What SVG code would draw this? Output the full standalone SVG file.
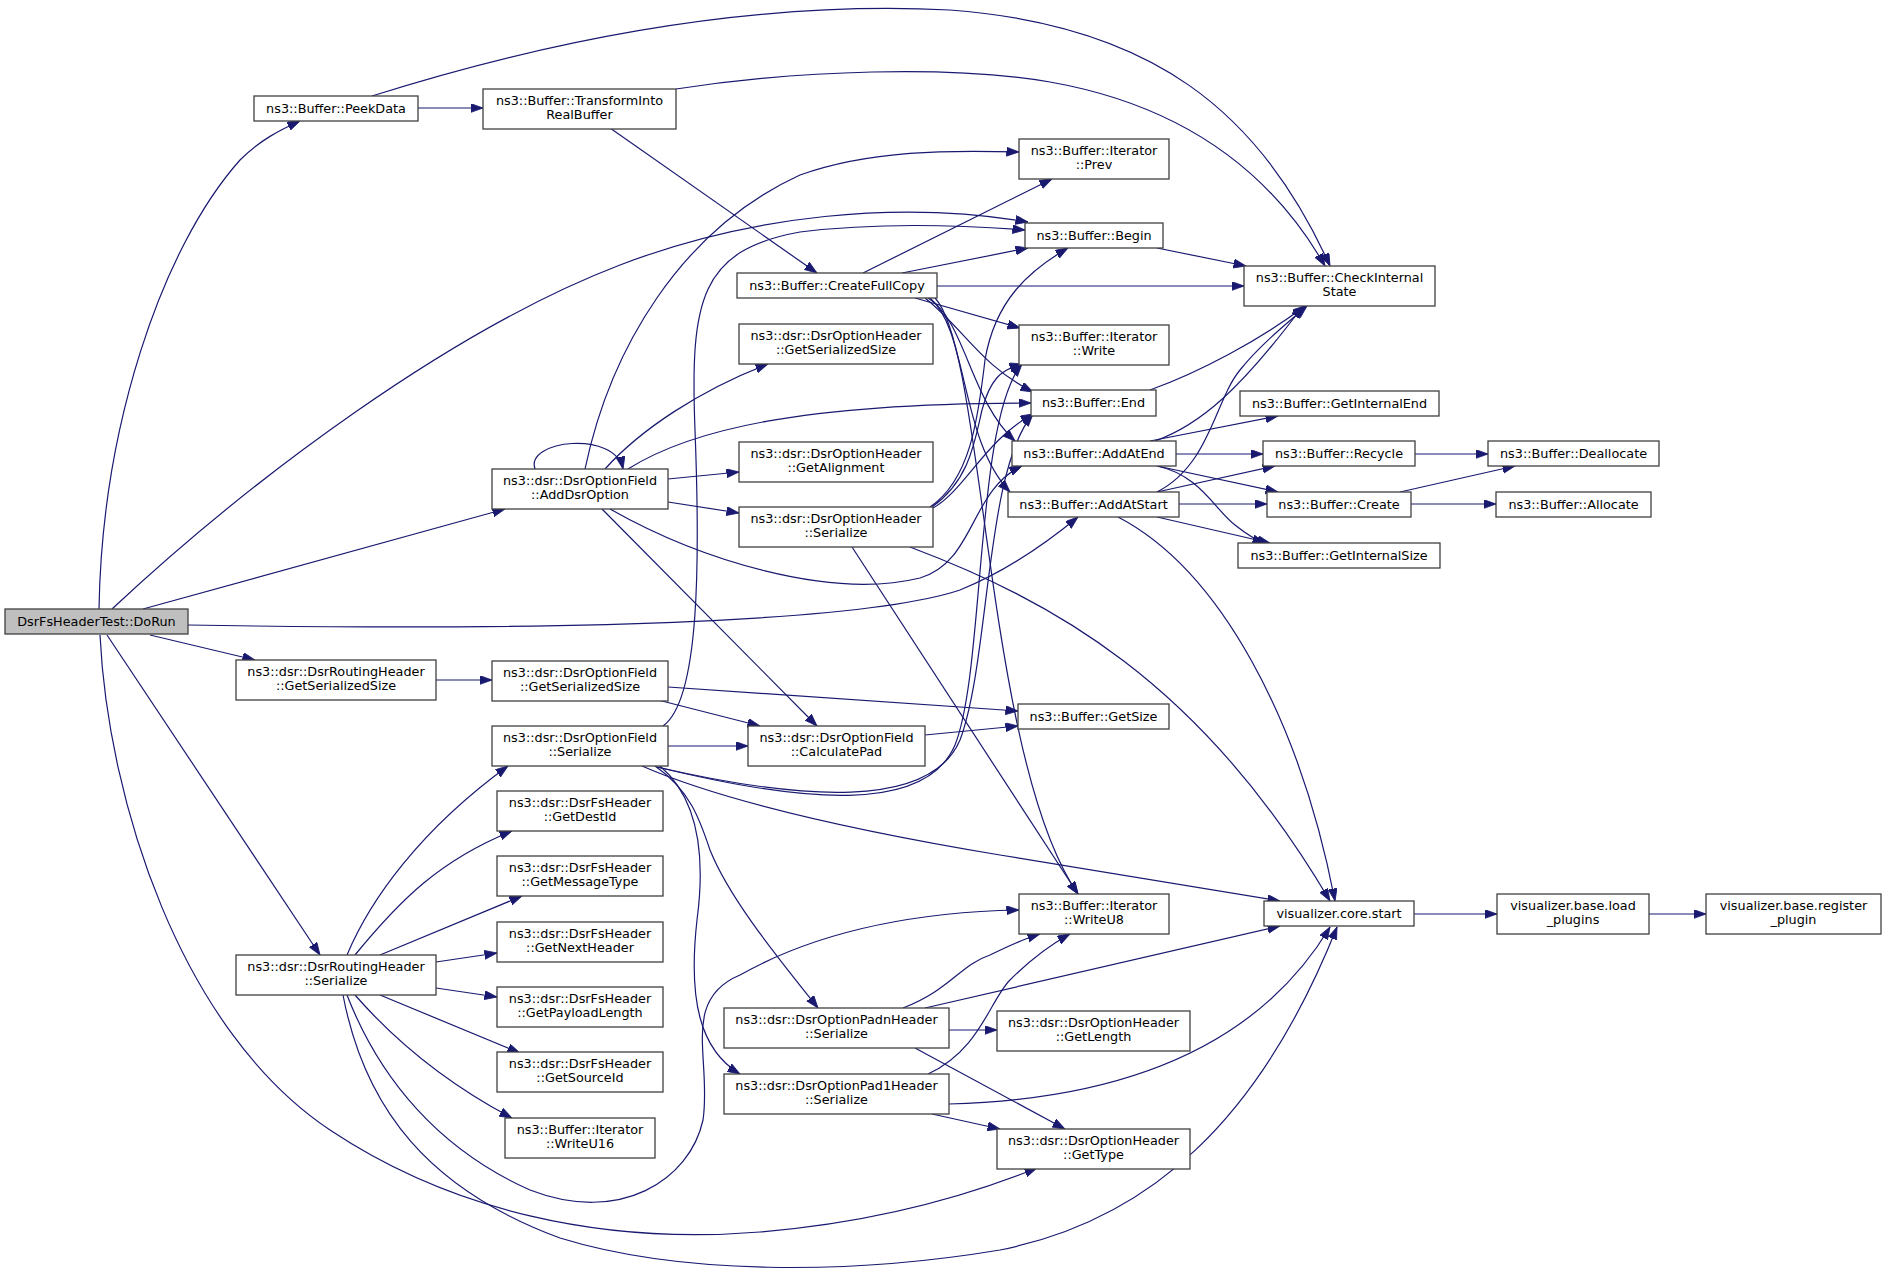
<svg xmlns="http://www.w3.org/2000/svg" width="1887" height="1277" viewBox="0 0 1887 1277">
<style>
.node rect{fill:#ffffff;stroke:#404040;stroke-width:1.3}
.root rect{fill:#bfbfbf}
text{font-family:"DejaVu Sans","Liberation Sans",sans-serif;font-size:12.8px;text-anchor:middle;fill:#000000}
.edges path{fill:none;stroke:#191970;stroke-width:1.2;marker-end:url(#ah)}
</style>
<defs>
<marker id="ah" markerUnits="userSpaceOnUse" markerWidth="14" markerHeight="10" refX="12.5" refY="4.5" orient="auto">
<path d="M0,0 L12.5,4.5 L0,9 z" fill="#191970" stroke="#191970" stroke-width="0.8"/>
</marker>
</defs>
<rect x="0" y="0" width="1887" height="1277" fill="#ffffff"/>
<g id="connectors" class="edges">
<path d="M99,609 C102,430 160,250 240,160 C260,140 280,130 300,121"/>
<path d="M112,609 C250,480 450,330 620,265 C750,215 900,200 1028,222"/>
<path d="M143,609 L505,509"/>
<path d="M188,625 C600,632 870,620 960,590 C1010,570 1050,540 1078,517"/>
<path d="M150,635 L255,660"/>
<path d="M107,635 L320,955"/>
<path d="M100,635 C108,800 180,1030 330,1130 C450,1210 600,1245 760,1232 C880,1222 970,1195 1037,1168"/>
<path d="M418,108 L483,108"/>
<path d="M372,96 C550,40 750,0 950,10 C1150,25 1260,110 1330,266"/>
<path d="M676,89 C800,70 950,65 1050,82 C1180,105 1270,170 1325,266"/>
<path d="M610,128 L817,273"/>
<path d="M863,273 L1052,179"/>
<path d="M902,273 L1028,248"/>
<path d="M937,286 L1244,286"/>
<path d="M915,298 L1020,328"/>
<path d="M925,298 C965,330 980,365 1033,392"/>
<path d="M928,298 C965,320 970,400 1015,441"/>
<path d="M930,298 C968,330 960,440 1010,492"/>
<path d="M935,298 C985,350 985,760 1078,894"/>
<path d="M535,469 C525,440 615,430 623,469"/>
<path d="M585,469 C610,350 680,230 800,175 C870,150 950,150 1019,152"/>
<path d="M605,469 C640,430 700,390 768,364"/>
<path d="M628,469 C690,430 800,403 1031,403"/>
<path d="M668,479 L739,472"/>
<path d="M668,502 L739,513"/>
<path d="M602,509 L817,726"/>
<path d="M610,509 C700,560 830,600 920,578 C975,562 970,490 1022,466"/>
<path d="M930,507 C970,480 978,420 985,360 C995,300 1030,270 1068,248"/>
<path d="M932,507 C970,480 975,440 982,410 C990,380 1000,370 1022,364"/>
<path d="M933,508 C965,490 985,440 1033,414"/>
<path d="M852,547 L1078,894"/>
<path d="M910,547 C1050,600 1200,680 1330,901"/>
<path d="M1118,517 C1220,570 1300,720 1335,901"/>
<path d="M1157,492 C1210,465 1215,400 1240,370 C1260,345 1285,325 1307,306"/>
<path d="M1155,441 C1200,425 1240,390 1303,306"/>
<path d="M1150,390 C1200,372 1260,340 1305,306"/>
<path d="M1150,441 L1278,416"/>
<path d="M1176,454 L1263,454"/>
<path d="M1157,466 L1278,492"/>
<path d="M1157,466 C1200,475 1215,510 1235,525 C1245,533 1255,540 1265,543"/>
<path d="M1157,492 L1275,466"/>
<path d="M1179,504 L1267,504"/>
<path d="M1157,517 L1270,543"/>
<path d="M1415,454 L1488,454"/>
<path d="M1400,492 L1515,466"/>
<path d="M1411,504 L1496,504"/>
<path d="M1414,914 L1497,914"/>
<path d="M1649,914 L1706,914"/>
<path d="M1157,248 L1246,266"/>
<path d="M668,687 L1018,711"/>
<path d="M658,700 L760,726"/>
<path d="M925,735 L1018,726"/>
<path d="M668,746 L748,746"/>
<path d="M663,726 C700,700 700,560 695,430 C690,300 700,250 800,232 C880,222 960,225 1025,230"/>
<path d="M642,766 C720,800 850,830 1000,855 C1120,875 1220,892 1280,901"/>
<path d="M655,766 C690,790 700,820 710,850 C730,900 780,960 818,1008"/>
<path d="M660,766 C700,800 705,860 697,920 C688,1000 700,1050 740,1074"/>
<path d="M657,767 C800,800 930,810 960,740 C990,660 985,470 1033,414"/>
<path d="M657,767 C800,802 925,815 955,745 C985,670 975,420 1022,364"/>
<path d="M436,680 L492,680"/>
<path d="M347,955 C370,900 420,830 508,766"/>
<path d="M355,955 C400,900 440,860 512,831"/>
<path d="M380,955 L522,896"/>
<path d="M436,962 L497,953"/>
<path d="M436,988 L497,997"/>
<path d="M380,995 L520,1053"/>
<path d="M355,995 C390,1035 440,1080 512,1118"/>
<path d="M347,995 C380,1080 440,1150 530,1190 C620,1225 690,1180 703,1120 C712,1060 680,1000 740,975 C820,930 920,912 1019,910"/>
<path d="M343,995 C365,1110 430,1190 560,1238 C680,1275 850,1275 1000,1250 C1150,1220 1260,1120 1337,927"/>
<path d="M903,1008 C950,990 960,965 990,955 C1005,948 1020,940 1040,934"/>
<path d="M925,1008 L1280,926"/>
<path d="M949,1030 L997,1030"/>
<path d="M915,1048 L1065,1129"/>
<path d="M928,1074 C980,1050 990,1000 1010,980 C1030,960 1050,945 1070,934"/>
<path d="M949,1104 C1100,1100 1250,1060 1330,927"/>
<path d="M932,1114 L1000,1129"/>
</g>
<g id="n_dorun" class="node root"><rect x="5" y="609" width="183" height="25"/><text x="96.5" y="626">DsrFsHeaderTest::DoRun</text></g>
<g id="n_peek" class="node"><rect x="254" y="96" width="164" height="25"/><text x="336" y="113">ns3::Buffer::PeekData</text></g>
<g id="n_transform" class="node"><rect x="483" y="89" width="193" height="40"/><text x="579.5" y="105">ns3::Buffer::TransformInto</text><text x="579.5" y="119">RealBuffer</text></g>
<g id="n_cfc" class="node"><rect x="737" y="273" width="200" height="25"/><text x="837" y="290">ns3::Buffer::CreateFullCopy</text></g>
<g id="n_ohgss" class="node"><rect x="739" y="324" width="194" height="40"/><text x="836" y="340">ns3::dsr::DsrOptionHeader</text><text x="836" y="354">::GetSerializedSize</text></g>
<g id="n_prev" class="node"><rect x="1019" y="139" width="150" height="40"/><text x="1094" y="155">ns3::Buffer::Iterator</text><text x="1094" y="169">::Prev</text></g>
<g id="n_begin" class="node"><rect x="1025" y="223" width="138" height="25"/><text x="1094" y="240">ns3::Buffer::Begin</text></g>
<g id="n_cis" class="node"><rect x="1244" y="266" width="191" height="40"/><text x="1339.5" y="282">ns3::Buffer::CheckInternal</text><text x="1339.5" y="296">State</text></g>
<g id="n_write" class="node"><rect x="1019" y="325" width="150" height="40"/><text x="1094" y="341">ns3::Buffer::Iterator</text><text x="1094" y="355">::Write</text></g>
<g id="n_end" class="node"><rect x="1031" y="390" width="125" height="26"/><text x="1093.5" y="407">ns3::Buffer::End</text></g>
<g id="n_gie" class="node"><rect x="1240" y="391" width="199" height="25"/><text x="1339.5" y="408">ns3::Buffer::GetInternalEnd</text></g>
<g id="n_rhgss" class="node"><rect x="236" y="660" width="200" height="40"/><text x="336" y="676">ns3::dsr::DsrRoutingHeader</text><text x="336" y="690">::GetSerializedSize</text></g>
<g id="n_add" class="node"><rect x="492" y="469" width="176" height="40"/><text x="580" y="485">ns3::dsr::DsrOptionField</text><text x="580" y="499">::AddDsrOption</text></g>
<g id="n_align" class="node"><rect x="739" y="442" width="194" height="40"/><text x="836" y="458">ns3::dsr::DsrOptionHeader</text><text x="836" y="472">::GetAlignment</text></g>
<g id="n_ohser" class="node"><rect x="739" y="507" width="194" height="40"/><text x="836" y="523">ns3::dsr::DsrOptionHeader</text><text x="836" y="537">::Serialize</text></g>
<g id="n_ofgss" class="node"><rect x="492" y="661" width="176" height="40"/><text x="580" y="677">ns3::dsr::DsrOptionField</text><text x="580" y="691">::GetSerializedSize</text></g>
<g id="n_ofser" class="node"><rect x="492" y="726" width="176" height="40"/><text x="580" y="742">ns3::dsr::DsrOptionField</text><text x="580" y="756">::Serialize</text></g>
<g id="n_calc" class="node"><rect x="748" y="726" width="177" height="40"/><text x="836.5" y="742">ns3::dsr::DsrOptionField</text><text x="836.5" y="756">::CalculatePad</text></g>
<g id="n_dest" class="node"><rect x="497" y="791" width="166" height="40"/><text x="580" y="807">ns3::dsr::DsrFsHeader</text><text x="580" y="821">::GetDestId</text></g>
<g id="n_addend" class="node"><rect x="1012" y="441" width="164" height="25"/><text x="1094" y="458">ns3::Buffer::AddAtEnd</text></g>
<g id="n_addstart" class="node"><rect x="1008" y="492" width="171" height="25"/><text x="1093.5" y="509">ns3::Buffer::AddAtStart</text></g>
<g id="n_recycle" class="node"><rect x="1263" y="441" width="152" height="25"/><text x="1339" y="458">ns3::Buffer::Recycle</text></g>
<g id="n_create" class="node"><rect x="1267" y="492" width="144" height="25"/><text x="1339" y="509">ns3::Buffer::Create</text></g>
<g id="n_gis" class="node"><rect x="1238" y="543" width="202" height="25"/><text x="1339" y="560">ns3::Buffer::GetInternalSize</text></g>
<g id="n_getsize" class="node"><rect x="1018" y="704" width="151" height="25"/><text x="1093.5" y="721">ns3::Buffer::GetSize</text></g>
<g id="n_dealloc" class="node"><rect x="1488" y="441" width="171" height="25"/><text x="1573.5" y="458">ns3::Buffer::Deallocate</text></g>
<g id="n_alloc" class="node"><rect x="1496" y="492" width="155" height="25"/><text x="1573.5" y="509">ns3::Buffer::Allocate</text></g>
<g id="n_rhser" class="node"><rect x="236" y="955" width="200" height="40"/><text x="336" y="971">ns3::dsr::DsrRoutingHeader</text><text x="336" y="985">::Serialize</text></g>
<g id="n_msgtype" class="node"><rect x="497" y="856" width="166" height="40"/><text x="580" y="872">ns3::dsr::DsrFsHeader</text><text x="580" y="886">::GetMessageType</text></g>
<g id="n_next" class="node"><rect x="497" y="922" width="166" height="40"/><text x="580" y="938">ns3::dsr::DsrFsHeader</text><text x="580" y="952">::GetNextHeader</text></g>
<g id="n_payload" class="node"><rect x="497" y="987" width="166" height="40"/><text x="580" y="1003">ns3::dsr::DsrFsHeader</text><text x="580" y="1017">::GetPayloadLength</text></g>
<g id="n_source" class="node"><rect x="497" y="1052" width="166" height="40"/><text x="580" y="1068">ns3::dsr::DsrFsHeader</text><text x="580" y="1082">::GetSourceId</text></g>
<g id="n_wu16" class="node"><rect x="505" y="1118" width="150" height="40"/><text x="580" y="1134">ns3::Buffer::Iterator</text><text x="580" y="1148">::WriteU16</text></g>
<g id="n_padn" class="node"><rect x="724" y="1008" width="225" height="40"/><text x="836.5" y="1024">ns3::dsr::DsrOptionPadnHeader</text><text x="836.5" y="1038">::Serialize</text></g>
<g id="n_pad1" class="node"><rect x="724" y="1074" width="225" height="40"/><text x="836.5" y="1090">ns3::dsr::DsrOptionPad1Header</text><text x="836.5" y="1104">::Serialize</text></g>
<g id="n_wu8" class="node"><rect x="1019" y="894" width="150" height="40"/><text x="1094" y="910">ns3::Buffer::Iterator</text><text x="1094" y="924">::WriteU8</text></g>
<g id="n_start" class="node"><rect x="1264" y="901" width="150" height="25"/><text x="1339" y="918">visualizer.core.start</text></g>
<g id="n_len" class="node"><rect x="997" y="1011" width="193" height="40"/><text x="1093.5" y="1027">ns3::dsr::DsrOptionHeader</text><text x="1093.5" y="1041">::GetLength</text></g>
<g id="n_type" class="node"><rect x="997" y="1129" width="193" height="40"/><text x="1093.5" y="1145">ns3::dsr::DsrOptionHeader</text><text x="1093.5" y="1159">::GetType</text></g>
<g id="n_load" class="node"><rect x="1497" y="894" width="152" height="40"/><text x="1573" y="910">visualizer.base.load</text><text x="1573" y="924">_plugins</text></g>
<g id="n_reg" class="node"><rect x="1706" y="894" width="175" height="40"/><text x="1793.5" y="910">visualizer.base.register</text><text x="1793.5" y="924">_plugin</text></g>
</svg>
